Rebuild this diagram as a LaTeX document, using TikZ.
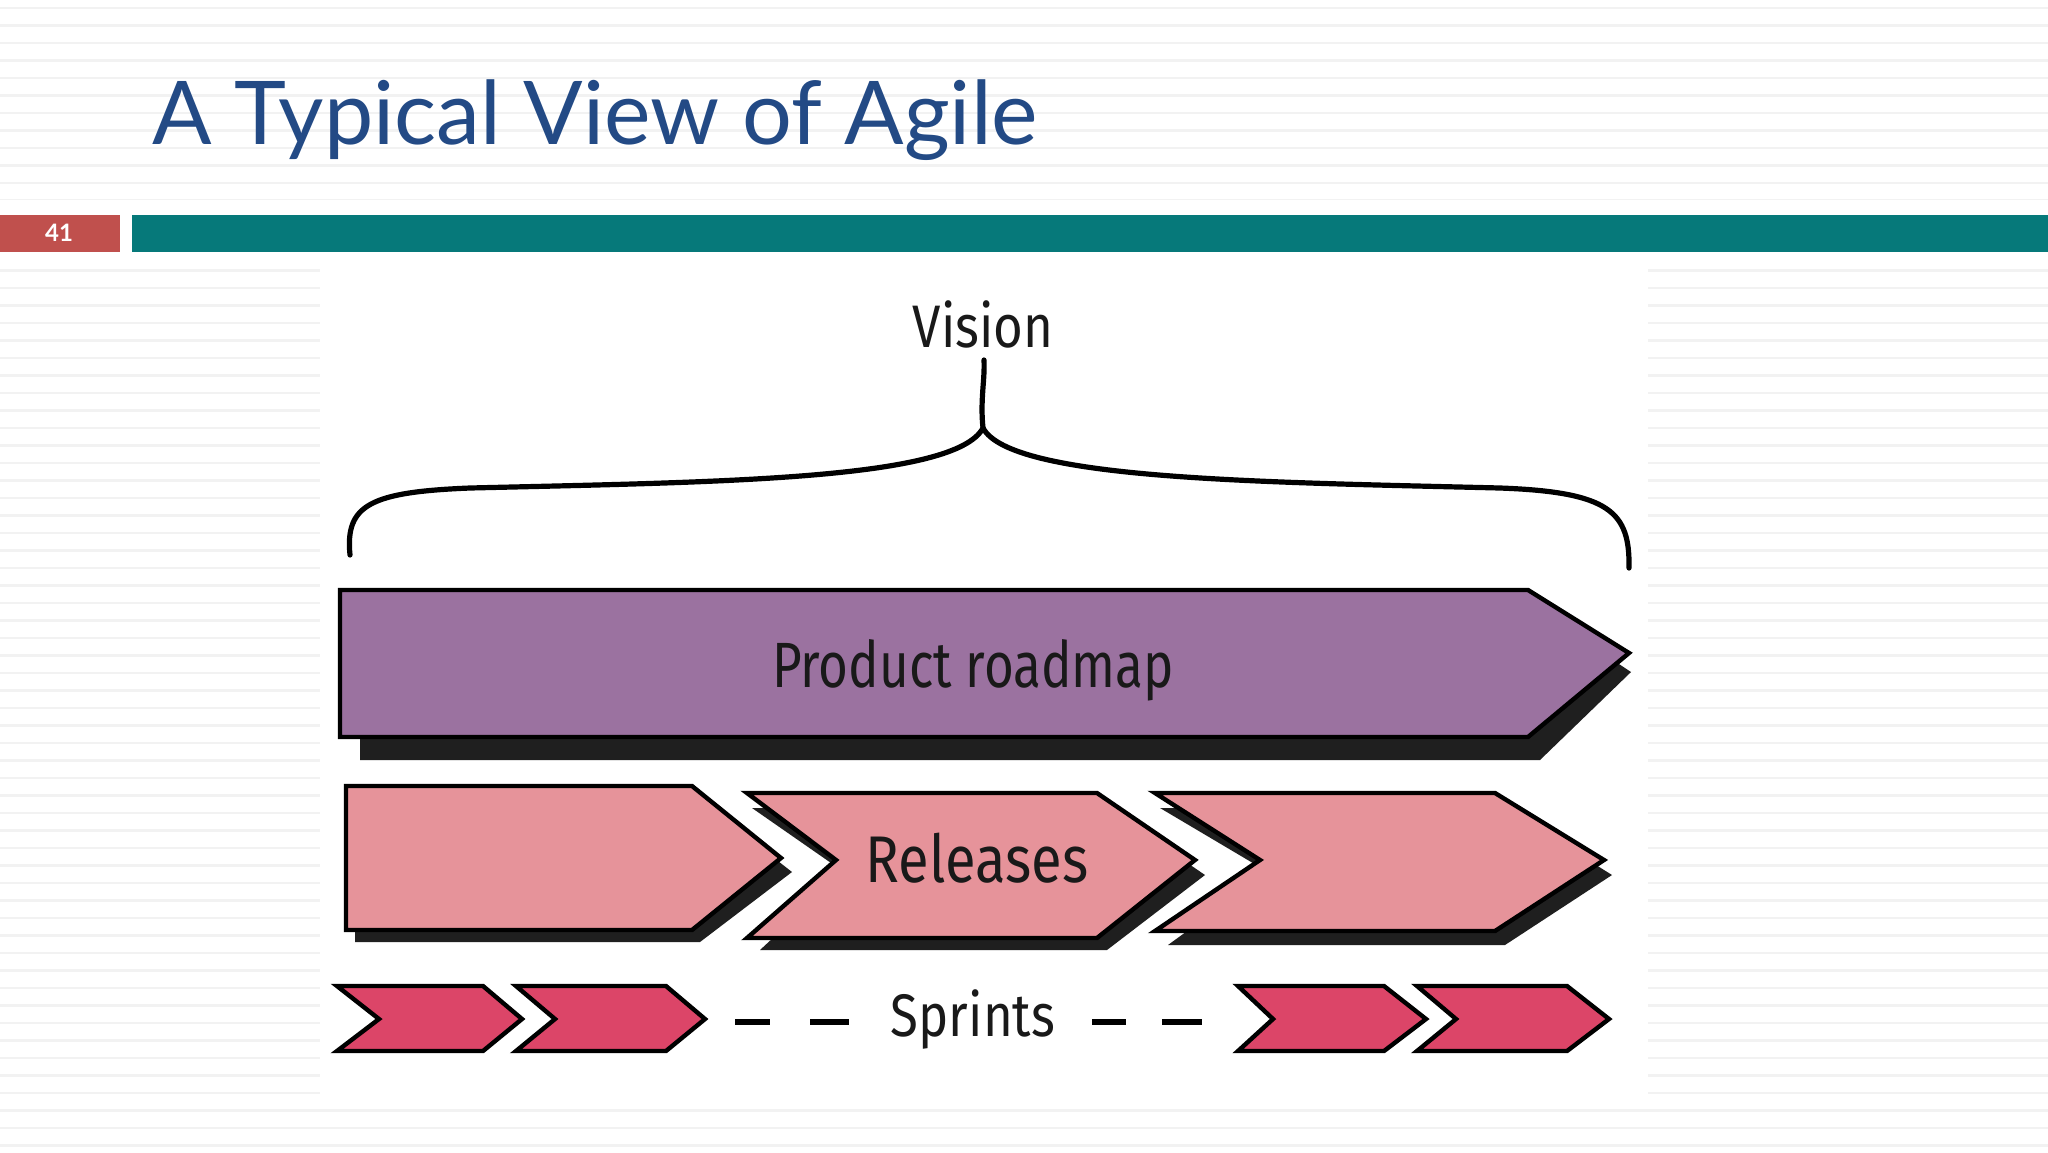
\documentclass[tikz,border=0pt]{standalone}
\usepackage{fontspec}
\setmainfont{Lato}
\newfontfamily\hand{Fira Sans}
\definecolor{titleblue}{HTML}{234A85}
\definecolor{barred}{HTML}{C0504D}
\definecolor{barteal}{HTML}{06797A}
\definecolor{roadmap}{HTML}{9B72A0}
\definecolor{release}{HTML}{E6939A}
\definecolor{sprint}{HTML}{DC4568}
\begin{document}
\begin{tikzpicture}[x=0.5pt,y=-0.5pt,
  outl/.style={draw=black,line width=2.2pt,line join=miter},
  shadow/.style={fill=black!88},
  handtxt/.style={font=\hand,text=black!90,inner sep=0pt}]
\useasboundingbox (0,0) rectangle (2048,1152);
\fill[white] (0,0) rectangle (2048,1152);
\foreach \y in {8,25.5,...,1152} \draw[black!5,line width=1.2pt] (0,\y) -- (2048,\y);
\fill[white] (0,200) rectangle (2048,262);
\fill[white] (320,268) rectangle (1648,1100);
% title and bars
\node[anchor=west,text=titleblue,font=\fontsize{44}{50}\selectfont,inner sep=0pt] (title) at (152,120) {A Typical View of Agile};
\fill[barred] (0,215) rectangle (120,252);
\fill[barteal] (132,215) rectangle (2048,252);
\node[text=white,font=\bfseries\fontsize{12}{14}\selectfont] (num) at (59,233) {41};
% vision and brace
\node[handtxt,font=\hand\fontsize{30}{34}\selectfont] (vision) at (983,324) {\scalebox{0.85}[1]{Vision}};
\draw[line width=2.6pt,line cap=round,line join=round]
  (350,555) .. controls (345,505) and (370,492) .. (470,488)
  .. controls (720,482) and (955,480) .. (983,428)
  .. controls (1011,480) and (1260,482) .. (1500,488)
  .. controls (1610,492) and (1630,512) .. (1629,568);
\draw[line width=2.6pt,line cap=round] (983,428) .. controls (980,400) and (985,380) .. (984,360);
% product roadmap
\fill[shadow] (360,612) -- (1540,612) -- (1631,672) -- (1540,760) -- (360,760) -- cycle;
\draw[outl,fill=roadmap] (340,590) -- (1528,590) -- (1629,653) -- (1528,737) -- (340,737) -- cycle;
\node[handtxt,font=\hand\fontsize{32}{36}\selectfont] (pr) at (973,670) {\scalebox{0.8}[1]{Product roadmap}};
% releases
\fill[shadow] (355,800) -- (700,800) -- (792,872) -- (700,942) -- (355,942) -- cycle;
\draw[outl,fill=release] (346,786) -- (692,786) -- (781,858) -- (692,930) -- (346,930) -- cycle;
\fill[shadow] (752,808) -- (1107,808) -- (1205,875) -- (1107,950) -- (760,950) -- (844,872) -- cycle;
\draw[outl,fill=release] (747,793) -- (1097,793) -- (1195,860) -- (1097,938) -- (747,938) -- (836,860) -- cycle;
\node[handtxt,font=\hand\fontsize{33}{36}\selectfont] (rel) at (977,858) {\scalebox{0.85}[1]{Releases}};
\fill[shadow] (1160,808) -- (1505,808) -- (1612,875) -- (1505,945) -- (1168,945) -- (1268,872) -- cycle;
\draw[outl,fill=release] (1155,793) -- (1495,793) -- (1604,860) -- (1495,931) -- (1155,931) -- (1260,860) -- cycle;
% sprints
\foreach \a/\b/\c/\d [count=\i] in {337/379/483/522, 516/555/666/705, 1238/1273/1384/1426, 1417/1456/1567/1609}
  \draw[outl,fill=sprint] (\a,986) -- (\c,986) -- (\d,1019) -- (\c,1051) -- (\a,1051) -- (\b,1019) -- cycle;
\node[handtxt,font=\hand\fontsize{30}{34}\selectfont] (spr) at (973,1019) {\scalebox{0.85}[1]{Sprints}};
\foreach \a/\b in {735/770, 810/849, 1092/1126, 1162/1202}
  \draw[line width=3.2pt] (\a,1022) -- (\b,1022);
\end{tikzpicture}
\end{document}
